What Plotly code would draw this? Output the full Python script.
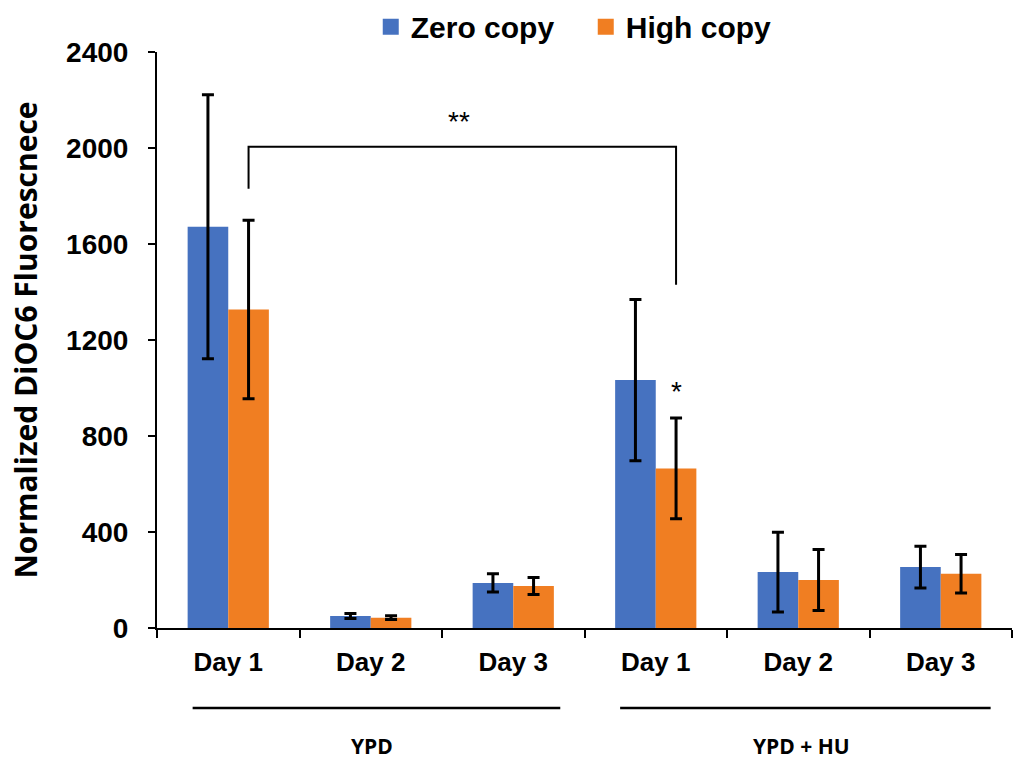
import plotly.graph_objects as go

days = ["Day 1", "Day 2", "Day 3", "Day 1", "Day 2", "Day 3"]
conditions = ["YPD", "YPD + HU"]
zero_copy = [1672, 50, 188, 1033, 233, 254]
zero_err = [550, 10, 38, 336, 166, 87]
high_copy = [1327, 43, 175, 665, 200, 226]
high_err = [372, 8, 35, 210, 127, 80]
y_ticks = [0, 400, 800, 1200, 1600, 2000, 2400]

BLUE = "#4672C0"
ORANGE = "#F07E22"
FONT = "Liberation Sans"

xpos = list(range(len(days)))
bargap = 0.43
half = (1 - bargap) / 4  # offset of each bar center from category center

fig = go.Figure()
fig.add_trace(go.Bar(
    x=xpos, y=zero_copy, name="Zero copy", showlegend=False,
    marker=dict(color=BLUE, line=dict(width=0)),
    error_y=dict(type="data", array=zero_err, color="black", thickness=3, width=6)))
fig.add_trace(go.Bar(
    x=xpos, y=high_copy, name="High copy", showlegend=False,
    marker=dict(color=ORANGE, line=dict(width=0)),
    error_y=dict(type="data", array=high_err, color="black", thickness=3, width=6)))
# legend entries with larger square swatches
for name, col in [("Zero copy", BLUE), ("High copy", ORANGE)]:
    fig.add_trace(go.Scatter(x=[None], y=[None], mode="markers", name=name,
                             marker=dict(symbol="square", size=17, color=col)))

# significance bracket between YPD Day1 high copy and YPD+HU Day1 high copy
xl = xpos[0] + half
xr = xpos[3] + half
fig.add_shape(type="path", xref="x", yref="y",
              path=f"M {xl},1830 L {xl},2005 L {xr},2005 L {xr},1430",
              line=dict(color="black", width=2))
fig.add_annotation(x=(xl + xr) / 2 - 0.02, y=2005, xref="x", yref="y", text="**",
                   showarrow=False, yanchor="bottom", yshift=8,
                   font=dict(family=FONT, size=28, color="black"))
fig.add_annotation(x=xpos[3] + half, y=high_copy[3] + high_err[3], xref="x", yref="y",
                   text="*", showarrow=False, yanchor="bottom", yshift=9,
                   font=dict(family=FONT, size=28, color="black"))

# condition group lines and labels
groups = [(-0.25, 2.33, 1.01), (2.75, 5.35, 4.02)]
for (x0, x1, xc), cond in zip(groups, conditions):
    fig.add_shape(type="line", xref="x", yref="paper", x0=x0, x1=x1, y0=-0.139, y1=-0.139,
                  line=dict(color="black", width=2.5))
    fig.add_annotation(x=xc, y=-0.205, xref="x", yref="paper", text=cond,
                       showarrow=False, yanchor="middle",
                       font=dict(family="Open Sans", size=21, color="black", weight="bold"))

fig.update_layout(
    width=1014, height=761,
    margin=dict(l=157, r=2, t=51, b=133),
    paper_bgcolor="white", plot_bgcolor="white",
    barmode="group", bargap=bargap, bargroupgap=0,
    font=dict(family=FONT, color="black"),
    legend=dict(orientation="h", x=0.25, y=1.042, xanchor="left", yanchor="middle",
                font=dict(family=FONT, size=30, color="black", weight="bold"),
                itemwidth=30, entrywidth=170, traceorder="normal"),
    showlegend=True,
)
fig.update_xaxes(
    range=[-0.5, 5.5], tickmode="array", tickvals=xpos, ticktext=[f"<b>{d}</b>" for d in days],
    ticks="", showgrid=False, zeroline=False,
    showline=True, linecolor="black", linewidth=2,
    tickfont=dict(family=FONT, size=26, color="black"), ticklabelstandoff=10,
    minor=dict(tickmode="linear", tick0=0.5, dtick=1, ticks="outside", ticklen=8,
               tickwidth=2, tickcolor="black", showgrid=False),
)
fig.update_yaxes(
    range=[0, 2400], tickmode="array", tickvals=y_ticks, ticktext=[f"<b>{v}</b>" for v in y_ticks],
    ticks="outside", ticklen=7, tickwidth=2, tickcolor="black",
    showgrid=False, zeroline=False, showline=True, linecolor="black", linewidth=2,
    tickfont=dict(family=FONT, size=28, color="black"), ticklabelstandoff=14,
    title=dict(text="Normalized DiOC6 Fluorescnece", standoff=20,
               font=dict(family="Open Sans", size=30, color="black", weight="bold")),
)

fig.write_html("out.html")
